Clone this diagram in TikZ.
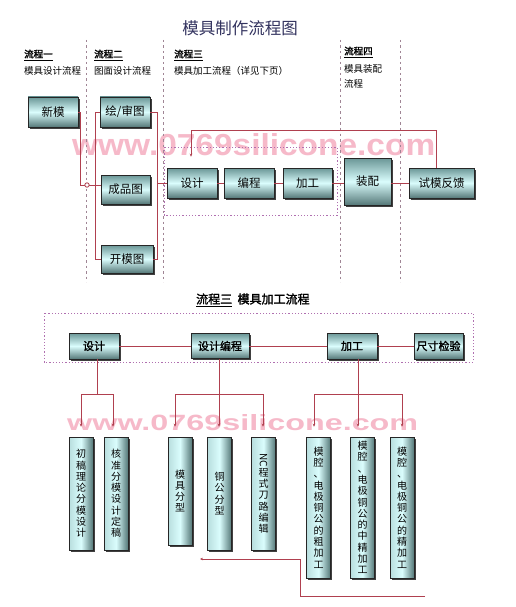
\documentclass[tikz,border=0pt]{standalone}
\usepackage{fontspec}
\setmainfont{Noto Sans CJK SC}
\newfontfamily\cjkb[FakeBold=1.8]{Noto Sans CJK SC}
\newfontfamily\wmfont{Liberation Sans}
\usetikzlibrary{shadows,arrows.meta}
\definecolor{lnc}{HTML}{B0404F}
\definecolor{tealA}{HTML}{6A9696}
\definecolor{tealB}{HTML}{DAFDFD}
\definecolor{tealC}{HTML}{557878}
\definecolor{dashc}{HTML}{A08595}
\definecolor{dotc}{HTML}{B070B0}
\definecolor{wmc}{HTML}{F6B9C9}
\definecolor{titlec}{HTML}{33335F}
\tikzset{
  boxbase/.style={draw=black!85, line width=0.6pt, inner sep=0pt,
    drop shadow={shadow xshift=1.8pt, shadow yshift=-1.8pt, fill=black!75, opacity=1}},
  hbox/.style={boxbase, top color=tealA, bottom color=tealC, middle color=tealB,
    font=\fontsize{11.5}{13}\selectfont},
  hboxb/.style={hbox, font=\cjkb\fontsize{11}{13}\selectfont},
  vbox/.style={boxbase, left color=tealB!70!tealA, right color=tealC, middle color=tealB,
    align=center, minimum width=24pt, font=\fontsize{10}{11.3}\selectfont},
  ln/.style={draw=lnc, line width=0.8pt},
  arr/.style={-{Stealth[length=3pt,width=2.6pt]}},
  dashv/.style={draw=dashc, line width=0.6pt, dash pattern=on 2.5pt off 3pt},
  dotr/.style={draw=dotc, line width=0.8pt, dash pattern=on 1.2pt off 2pt},
  lbl/.style={anchor=west, inner sep=0pt, font=\fontsize{9.5}{11}\selectfont},
  lblh/.style={anchor=west, inner sep=0pt, font=\cjkb\fontsize{9.5}{11}\selectfont},
  wmark/.style={inner sep=0pt, text=wmc, font=\wmfont\bfseries}
}
\begin{document}
\begin{tikzpicture}[x=1pt,y=-1pt]
\useasboundingbox (0,0) rectangle (515,607);
\fill[white] (0,0) rectangle (515,607);

% watermarks
\node[wmark, anchor=base west] (wm1) at (72,155) {\resizebox{363pt}{22pt}{www.0769silicone.com}};
\node[wmark, anchor=base west] (wm2) at (67,430) {\resizebox{351pt}{16pt}{www.0769silicone.com}};

% title
\node[text=titlec, font=\fontsize{16.5}{18}\selectfont] (title) at (240,28) {模具制作流程图};

% dashed column separators
\foreach \x in {86,163,340,400} \draw[dashv] (\x,40) -- (\x,282);

% column headings
\node[lblh] (h1a) at (24,55) {\underline{流程一}};
\node[lbl]  (h1b) at (24,71) {模具设计流程};
\node[lblh] (h2a) at (94,55) {\underline{流程二}};
\node[lbl]  (h2b) at (94,71) {图面设计流程};
\node[lblh] (h3a) at (174,55) {\underline{流程三}};
\node[lbl]  (h3b) at (174,71) {模具加工流程（详见下页）};
\node[lblh] (h4a) at (344,52) {\underline{流程四}};
\node[lbl]  (h4b) at (344,69) {模具装配};
\node[lbl]  (h4c) at (344,84) {流程};

% dotted frame around process 3
\draw[dotr] (164,147) rectangle (337,215);

% top boxes
\node[hbox, minimum width=50pt, minimum height=30pt] (xin) at (53,112) {新模};
\node[hbox, minimum width=50pt, minimum height=30pt] (hui) at (125,112) {绘/审图};
\node[hbox, minimum width=49pt, minimum height=29pt] (cheng) at (125.5,189.5) {成品图};
\node[hbox, minimum width=52pt, minimum height=28pt] (kai) at (127,259) {开模图};
\node[hbox, minimum width=50pt, minimum height=30pt] (sj) at (192,183) {设计};
\node[hbox, minimum width=50pt, minimum height=30pt] (bc) at (249,183) {编程};
\node[hbox, minimum width=49pt, minimum height=30pt] (jg) at (307.5,183) {加工};
\node[hbox, minimum width=47pt, minimum height=47pt] (zp) at (367.5,181.5) {装配};
\node[hbox, minimum width=65pt, minimum height=30pt] (sm) at (441.5,183) {试模反馈};

% top connectors
\draw[ln] (xin.east) -- ++(2,0) |- ([yshift=4.5pt]cheng.west);
\draw[ln, fill=white] (87,185) circle (2.2pt);
\draw[ln] (hui.west) -- ++(-4,0) |- (kai.west);
\draw[ln] (hui.east) -- ++(7,0) |- (kai.east);
\draw[ln] (sj.west) -- ++(-10,0);
\draw[ln] (sj) -- (bc);
\draw[ln] (bc) -- (jg);
\draw[ln] (jg.east) -- (jg.east -| zp.west);
\draw[ln] (zp.east |- sm.west) -- (sm.west);
\draw[ln, arr] ([xshift=-5.5pt]sm.north) -- ++(0,-37) -| ([xshift=-1pt,yshift=11pt]sj.north);

% bottom section
\node[anchor=west, inner sep=0pt, font=\cjkb\fontsize{12}{13}\selectfont] (btitle) at (196,300) {\underline{流程三}\hspace{0.45em}模具加工流程};
\draw[dotr] (44,313) rectangle (473,362);

\node[hboxb, minimum width=50pt, minimum height=26pt] (b1) at (94,346) {设计};
\node[hboxb, minimum width=58pt, minimum height=25pt] (b2) at (220,346) {设计编程};
\node[hboxb, minimum width=50pt, minimum height=26pt] (b3) at (352,346) {加工};
\node[hboxb, minimum width=49pt, minimum height=26pt] (b4) at (438.5,346) {尺寸检验};

\draw[ln] (b1) -- (b2);
\draw[ln] (b2) -- (b3);
\draw[ln] (b3) -- (b4);

% vertical boxes
\node[vbox, minimum height=113pt] (v1) at (81,493.5) {初\\稿\\理\\论\\分\\模\\设\\计};
\node[vbox, minimum height=113pt] (v2) at (116,493.5) {核\\准\\分\\模\\设\\计\\定\\稿};
\node[vbox, minimum height=108pt] (v3) at (180,491) {模\\具\\分\\型};
\node[vbox, minimum height=113pt] (v4) at (219.5,493.5) {铜\\公\\分\\型};
\node[vbox, minimum height=113pt] (v5) at (263.5,493.5) {\rotatebox{-90}{NC}\\程\\式\\刀\\路\\编\\辑};
\node[vbox, minimum height=141pt] (v6) at (318.5,507.5) {模\\腔\\、\\电\\极\\铜\\公\\的\\粗\\加\\工};
\node[vbox, minimum height=141pt] (v7) at (362.5,507.5) {模\\腔\\、\\电\\极\\铜\\公\\的\\中\\精\\加\\工};
\node[vbox, minimum height=141pt] (v8) at (402,507.5) {模\\腔\\、\\电\\极\\铜\\公\\的\\精\\加\\工};

% branch connectors
\coordinate (k1) at (97,394);
\coordinate (k2) at (219,394);
\coordinate (k3) at (358,394);
\draw[ln] ([xshift=3pt]b1.south) -- (k1);
\draw[ln, arr] (k1) -| ([yshift=10pt]v1.north);
\draw[ln, arr] (k1) -| ([xshift=-3pt,yshift=10pt]v2.north);
\draw[ln] ([xshift=-1pt]b2.south) -- (k2);
\draw[ln, arr] (k2) -| ([xshift=-5pt,yshift=10pt]v3.north);
\draw[ln, arr] (k2) -| ([xshift=-0.5pt,yshift=10pt]v4.north);
\draw[ln, arr] (k2) -| ([xshift=-0.5pt,yshift=10pt]v5.north);
\draw[ln] ([xshift=6pt]b3.south) -- (k3);
\draw[ln, arr] (k3) -| ([xshift=-4.5pt,yshift=10pt]v6.north);
\draw[ln, arr] (k3) -| ([xshift=-4.5pt,yshift=10pt]v7.north);
\draw[ln, arr] (k3) -| ([yshift=10pt]v8.north);

% return arrow
\coordinate (r0) at (425,596);
\coordinate (r1) at (300,559);
\coordinate (r2) at (200,559);
\draw[ln, arr] (r0) -| (r1) -- (r2);
\end{tikzpicture}
\end{document}
